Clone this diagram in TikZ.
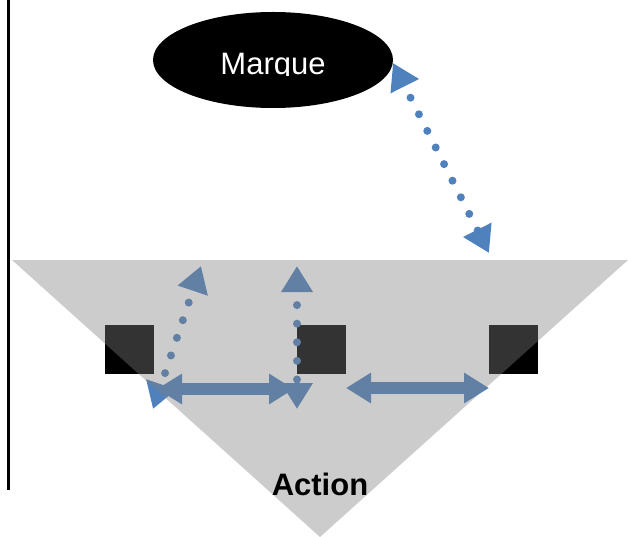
\documentclass[tikz,border=0pt]{standalone}
\usepackage{fontspec}
\setmainfont{Liberation Sans}
\usetikzlibrary{arrows.meta,shapes.geometric}
\definecolor{linkblue}{HTML}{4F81BD}
\tikzset{
  brandshape/.style={ellipse, fill=black, draw=none, minimum width=240pt, minimum height=96pt, inner sep=0pt},
  brandtext/.style={text=white, font=\fontsize{31}{31}\selectfont, inner sep=0pt},
  actorbox/.style={rectangle, fill=black, draw=none, minimum size=49pt, inner sep=0pt},
  dotlink/.style={draw=linkblue, line width=8pt, line cap=round,
    dash pattern=on 0pt off 18.6pt, dash phase=4.1pt,
    {Triangle[length=26pt,width=30pt]}-{Triangle[length=26pt,width=30pt]}},
  pairlink/.style={draw=linkblue, line width=12pt,
    {Triangle[length=25pt,width=29pt]}-{Triangle[length=25pt,width=29pt]}},
  zonefill/.style={fill=gray, opacity=0.4},
  zonetext/.style={font=\bfseries\fontsize{31}{31}\selectfont, text=black, inner sep=0pt}
}
\begin{document}
\begin{tikzpicture}[x=1pt,y=-1pt]
\useasboundingbox (0,0) rectangle (628,537);

% left rule
\draw[line width=2.8pt, black] (8.7,0) -- (8.7,490);

% brand ellipse and its label (clipped at the baseline)
\node[brandshape] (brand) at (273,60) {};
\begin{scope}
  \clip (150,0) rectangle (400,76);
  \node[brandtext, anchor=base] (brandlabel) at (273,75) {Marque};
\end{scope}

% the three actors
\node[actorbox] (actA) at (129.5,349.5) {};
\node[actorbox] (actB) at (321.5,349.5) {};
\node[actorbox] (actC) at (513.5,349.5) {};

% connector end points
\coordinate (brandTip) at (393,63);
\coordinate (zoneTip)  at (489,253);
\coordinate (aUp)      at (201,266);
\coordinate (aDown)    at (153,409);
\coordinate (bUp)      at (297,266);
\coordinate (bDown)    at (297,409);
\coordinate (abL)      at (157,389);
\coordinate (abR)      at (294,389);
\coordinate (bcL)      at (346,388);
\coordinate (bcR)      at (489,388);

% dotted links
\draw[dotlink] (brandTip) -- (zoneTip);
\draw[dotlink, dash phase=4.4pt] (aUp) -- (aDown);
\draw[dotlink, dash phase=3.9pt] (bUp) -- (bDown);

% solid two-way links
\draw[pairlink] (abL) -- (abR);
\draw[pairlink] (bcL) -- (bcR);

% action zone, laid over everything
\fill[zonefill] (12,260) -- (628,260) -- (320,537) -- cycle;
\node[zonetext, anchor=base] (action) at (320,495) {Action};
\end{tikzpicture}
\end{document}
